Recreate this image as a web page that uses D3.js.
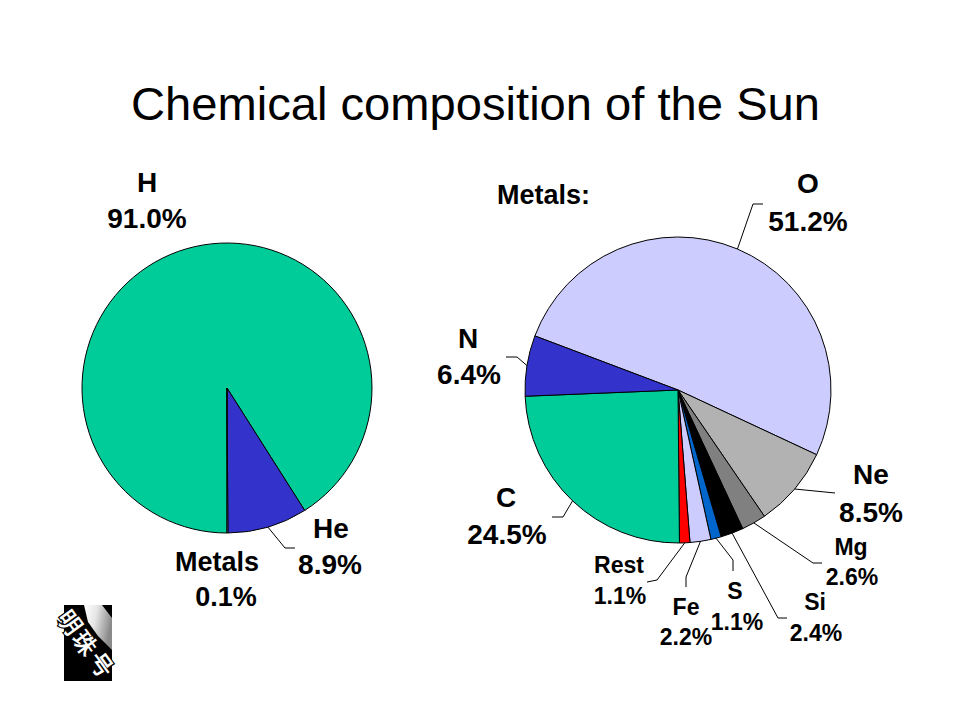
<!DOCTYPE html>
<html>
<head>
<meta charset="utf-8">
<script src="https://cdn.jsdelivr.net/npm/d3@7"></script>
<style>
  html, body { margin: 0; padding: 0; background: #fff; }
  svg { display: block; }
  text { font-family: "Liberation Sans", Arial, sans-serif; }
</style>
</head>
<body>
<script>
// ---------- data ----------
const titleText = "Chemical composition of the Sun";

const leftNames  = ["H", "He", "Metals"];
const leftValues = [91.0, 8.9, 0.1];
const leftColors = ["#00CC99", "#3333CC", "#CCCCFF"];

const rightTitle  = "Metals:";
const rightNames  = ["O", "Ne", "Mg", "Si", "S", "Fe", "Rest", "C", "N"];
const rightValues = [51.2, 8.5, 2.6, 2.4, 1.1, 2.2, 1.1, 24.5, 6.4];
const rightColors = ["#CCCCFF", "#B2B2B2", "#808080", "#000000", "#0066CC", "#CCCCFF", "#FF0000", "#00CC99", "#3333CC"];

const logoText = "明珠号";

// ---------- layout ----------
const W = 961, H = 721;
const leftPie  = { cx: 227, cy: 388, r: 145, start: 180 };
const rightPie = { cx: 678, cy: 390, r: 153, start: -69.3 };

const leftLabelLayout = {
  "H":      { l1: [147, 192], l2: [147, 228], fs: 28, leader: null },
  "He":     { l1: [331, 538], l2: [330, 574], fs: 28, leader: [[285, 548], [295, 548]] },
  "Metals": { l1: [217, 571], l2: [226, 606], fs: 27, leader: null }
};
const rightLabelLayout = {
  "O":    { l1: [808, 193], l2: [808, 231], fs: 28, leader: [[753, 204], [763, 204]] },
  "Ne":   { l1: [871, 484], l2: [871, 522], fs: 28, leader: [[835, 493]] },
  "Mg":   { l1: [851, 555], l2: [852, 585], fs: 23, leader: [[813, 563], [822, 563]] },
  "Si":   { l1: [815, 610], l2: [816, 641], fs: 23, leader: [[778, 618], [787, 618]] },
  "S":    { l1: [735, 599], l2: [737, 630], fs: 23, leader: [[733, 560], [733, 571]] },
  "Fe":   { l1: [686, 615], l2: [686, 645], fs: 23, leader: [[686, 577], [686, 587]] },
  "Rest": { l1: [619, 573], l2: [620, 604], fs: 23, leader: [[657, 580], [647, 582]] },
  "C":    { l1: [506, 507], l2: [507, 544], fs: 28, leader: [[563, 517], [552, 517]] },
  "N":    { l1: [468, 348], l2: [469, 384], fs: 28, leader: [[517, 357], [506, 357]] }
};

const svg = d3.select("body").append("svg")
  .attr("width", W).attr("height", H)
  .attr("viewBox", `0 0 ${W} ${H}`);

svg.append("rect").attr("width", W).attr("height", H).attr("fill", "#fff");

svg.append("text")
  .attr("x", 475.5).attr("y", 120)
  .attr("text-anchor", "middle")
  .attr("font-size", 46)
  .attr("textLength", 689)
  .attr("lengthAdjust", "spacingAndGlyphs")
  .attr("fill", "#000")
  .text(titleText);

const rad = d => d * Math.PI / 180;
const fmt = d3.format(".1f");

function drawPie(cfg, names, values, colors, layout) {
  const data = names.map((n, i) => ({ name: n, value: values[i], color: colors[i] }));
  const pie = d3.pie().sort(null).value(d => d.value)
    .startAngle(rad(cfg.start)).endAngle(rad(cfg.start) + 2 * Math.PI);
  const arcs = pie(data);
  const arc = d3.arc().innerRadius(0).outerRadius(cfg.r);
  const g = svg.append("g").attr("transform", `translate(${cfg.cx},${cfg.cy})`);
  g.selectAll("path").data(arcs).join("path")
    .attr("d", arc)
    .attr("fill", d => d.data.color)
    .attr("stroke", "#000")
    .attr("stroke-width", 1)
    .attr("stroke-linejoin", "round");

  arcs.forEach(a => {
    const L = layout[a.data.name];
    if (!L || !L.leader) return;
    const mid = (a.startAngle + a.endAngle) / 2;
    const p0 = [cfg.cx + cfg.r * Math.sin(mid), cfg.cy - cfg.r * Math.cos(mid)];
    const pts = [p0].concat(L.leader);
    svg.append("path")
      .attr("d", d3.line()(pts))
      .attr("fill", "none")
      .attr("stroke", "#000")
      .attr("stroke-width", 1);
  });

  arcs.forEach(a => {
    const L = layout[a.data.name];
    if (!L) return;
    const t = svg.append("g").attr("font-weight", "bold").attr("font-size", L.fs)
      .attr("text-anchor", "middle").attr("fill", "#000");
    t.append("text").attr("x", L.l1[0]).attr("y", L.l1[1]).text(a.data.name);
    t.append("text").attr("x", L.l2[0]).attr("y", L.l2[1]).text(fmt(a.data.value) + "%");
  });
}

drawPie(leftPie, leftNames, leftValues, leftColors, leftLabelLayout);
drawPie(rightPie, rightNames, rightValues, rightColors, rightLabelLayout);

svg.append("text")
  .attr("x", 497).attr("y", 204)
  .attr("font-size", 27).attr("font-weight", "bold").attr("fill", "#000")
  .text(rightTitle);

// logo
const logo = svg.append("g");
const defs = svg.append("defs");
const grad = defs.append("linearGradient").attr("id", "scroll")
  .attr("x1", "0").attr("y1", "0").attr("x2", "1").attr("y2", "0.3");
grad.append("stop").attr("offset", "0").attr("stop-color", "#ffffff");
grad.append("stop").attr("offset", "0.45").attr("stop-color", "#e6e6e6");
grad.append("stop").attr("offset", "1").attr("stop-color", "#8a8a8a");
logo.append("rect").attr("x", 64).attr("y", 605).attr("width", 48).attr("height", 76).attr("fill", "#000");
logo.append("polygon")
  .attr("points", "84,605 102,605 112,618 112,650 98,636 88,622")
  .attr("fill", "url(#scroll)");
logo.append("text")
  .attr("transform", "translate(62,614) rotate(54)")
  .attr("font-family", "Noto Sans CJK SC")
  .attr("font-weight", "bold")
  .attr("font-size", 23)
  .attr("letter-spacing", 3)
  .attr("fill", "#fff")
  .attr("stroke", "#000")
  .attr("stroke-width", 2.5)
  .attr("paint-order", "stroke")
  .attr("dominant-baseline", "middle")
  .text(logoText);
</script>
</body>
</html>
